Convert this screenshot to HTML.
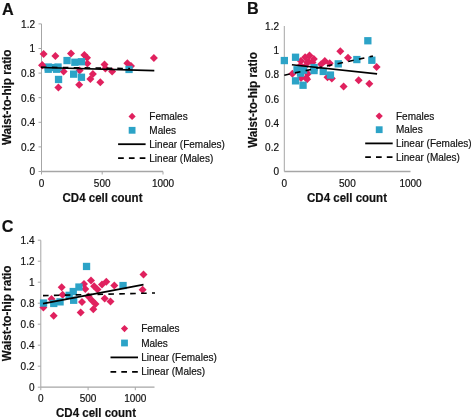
<!DOCTYPE html>
<html><head><meta charset="utf-8"><style>
html,body{margin:0;padding:0;background:#fff;}
body{width:472px;height:420px;overflow:hidden;}
svg{display:block;filter:blur(0.4px);}
text{font-family:"Liberation Sans",sans-serif;fill:#111;stroke:#111;stroke-width:0.18px;}
</style></head><body>
<svg width="472" height="420" viewBox="0 0 472 420">
<rect width="472" height="420" fill="#fff"/>
<line x1="41.5" y1="23.9" x2="41.5" y2="171.5" stroke="#a6a6a6" stroke-width="1"/>
<line x1="41.5" y1="171.5" x2="163" y2="171.5" stroke="#a6a6a6" stroke-width="1.3"/>
<line x1="38.5" y1="171.5" x2="41.5" y2="171.5" stroke="#a6a6a6" stroke-width="1"/>
<text x="35" y="175.4" text-anchor="end" font-size="10">0</text>
<line x1="38.5" y1="146.9" x2="41.5" y2="146.9" stroke="#a6a6a6" stroke-width="1"/>
<text x="35" y="150.8" text-anchor="end" font-size="10">0.2</text>
<line x1="38.5" y1="122.3" x2="41.5" y2="122.3" stroke="#a6a6a6" stroke-width="1"/>
<text x="35" y="126.2" text-anchor="end" font-size="10">0.4</text>
<line x1="38.5" y1="97.7" x2="41.5" y2="97.7" stroke="#a6a6a6" stroke-width="1"/>
<text x="35" y="101.6" text-anchor="end" font-size="10">0.6</text>
<line x1="38.5" y1="73.1" x2="41.5" y2="73.1" stroke="#a6a6a6" stroke-width="1"/>
<text x="35" y="77.0" text-anchor="end" font-size="10">0.8</text>
<line x1="38.5" y1="48.5" x2="41.5" y2="48.5" stroke="#a6a6a6" stroke-width="1"/>
<text x="35" y="52.4" text-anchor="end" font-size="10">1</text>
<line x1="38.5" y1="23.9" x2="41.5" y2="23.9" stroke="#a6a6a6" stroke-width="1"/>
<text x="35" y="27.8" text-anchor="end" font-size="10">1.2</text>
<line x1="41.5" y1="171.5" x2="41.5" y2="174.5" stroke="#a6a6a6" stroke-width="1"/>
<text x="41.5" y="186.8" text-anchor="middle" font-size="10">0</text>
<line x1="102.2" y1="171.5" x2="102.2" y2="174.5" stroke="#a6a6a6" stroke-width="1"/>
<text x="102.2" y="186.8" text-anchor="middle" font-size="10">500</text>
<line x1="163.0" y1="171.5" x2="163.0" y2="174.5" stroke="#a6a6a6" stroke-width="1"/>
<text x="163.0" y="186.8" text-anchor="middle" font-size="10">1000</text>
<text x="102.5" y="201.7" text-anchor="middle" font-size="12.6" font-weight="bold" textLength="80" lengthAdjust="spacingAndGlyphs">CD4 cell count</text>
<text transform="translate(11,97.3) rotate(-90)" text-anchor="middle" font-size="12.2" font-weight="bold" textLength="95.6" lengthAdjust="spacingAndGlyphs">Waist-to-hip ratio</text>
<text x="1.9" y="14.5" font-size="16.2" font-weight="bold">A</text>
<path d="M43.6 50.0L47.6 54.0L43.6 58.0L39.6 54.0Z" fill="#e0215e"/>
<path d="M55.4 52.1L59.4 56.1L55.4 60.1L51.4 56.1Z" fill="#e0215e"/>
<path d="M71.0 49.5L75.0 53.5L71.0 57.5L67.0 53.5Z" fill="#e0215e"/>
<path d="M84.4 51.0L88.4 55.0L84.4 59.0L80.4 55.0Z" fill="#e0215e"/>
<path d="M87.0 53.8L91.0 57.8L87.0 61.8L83.0 57.8Z" fill="#e0215e"/>
<path d="M42.2 61.3L46.2 65.3L42.2 69.3L38.2 65.3Z" fill="#e0215e"/>
<path d="M63.6 67.4L67.6 71.4L63.6 75.4L59.6 71.4Z" fill="#e0215e"/>
<path d="M79.6 66.6L83.6 70.6L79.6 74.6L75.6 70.6Z" fill="#e0215e"/>
<path d="M87.4 59.5L91.4 63.5L87.4 67.5L83.4 63.5Z" fill="#e0215e"/>
<path d="M92.9 70.0L96.9 74.0L92.9 78.0L88.9 74.0Z" fill="#e0215e"/>
<path d="M90.4 74.9L94.4 78.9L90.4 82.9L86.4 78.9Z" fill="#e0215e"/>
<path d="M100.3 78.3L104.3 82.3L100.3 86.3L96.3 82.3Z" fill="#e0215e"/>
<path d="M58.4 83.4L62.4 87.4L58.4 91.4L54.4 87.4Z" fill="#e0215e"/>
<path d="M79.2 80.8L83.2 84.8L79.2 88.8L75.2 84.8Z" fill="#e0215e"/>
<path d="M104.5 60.5L108.5 64.5L104.5 68.5L100.5 64.5Z" fill="#e0215e"/>
<path d="M105.4 64.5L109.4 68.5L105.4 72.5L101.4 68.5Z" fill="#e0215e"/>
<path d="M112.1 67.6L116.1 71.6L112.1 75.6L108.1 71.6Z" fill="#e0215e"/>
<path d="M127.4 59.2L131.4 63.2L127.4 67.2L123.4 63.2Z" fill="#e0215e"/>
<path d="M131.0 62.0L135.0 66.0L131.0 70.0L127.0 66.0Z" fill="#e0215e"/>
<path d="M153.9 53.9L157.9 57.9L153.9 61.9L149.9 57.9Z" fill="#e0215e"/>
<rect x="44.6" y="63.4" width="7.3" height="7.3" fill="#2ca3c7"/>
<rect x="49.4" y="63.9" width="7.3" height="7.3" fill="#2ca3c7"/>
<rect x="54.4" y="63.4" width="7.3" height="7.3" fill="#2ca3c7"/>
<rect x="44.6" y="65.6" width="7.3" height="7.3" fill="#2ca3c7"/>
<rect x="52.9" y="65.6" width="7.3" height="7.3" fill="#2ca3c7"/>
<rect x="54.9" y="75.8" width="7.3" height="7.3" fill="#2ca3c7"/>
<rect x="63.4" y="56.9" width="7.3" height="7.3" fill="#2ca3c7"/>
<rect x="71.2" y="58.6" width="7.3" height="7.3" fill="#2ca3c7"/>
<rect x="77.8" y="58.1" width="7.3" height="7.3" fill="#2ca3c7"/>
<rect x="70.0" y="70.5" width="7.3" height="7.3" fill="#2ca3c7"/>
<rect x="77.8" y="73.6" width="7.3" height="7.3" fill="#2ca3c7"/>
<rect x="125.4" y="65.8" width="7.3" height="7.3" fill="#2ca3c7"/>
<path d="M42.3 61.2L46.3 65.2L42.3 69.2L38.3 65.2Z" fill="#e0215e"/>
<line x1="41" y1="67.5" x2="154.3" y2="70.6" stroke="#000" stroke-width="1.6"/>
<line x1="41" y1="67.2" x2="130" y2="68.6" stroke="#000" stroke-width="1.6" stroke-dasharray="5.6 5.3"/>
<path d="M132.1 112.8L135.7 116.4L132.1 120.0L128.5 116.4Z" fill="#e0215e"/>
<rect x="128.7" y="126.9" width="6.8" height="6.8" fill="#2ca3c7"/>
<line x1="118.1" y1="144.2" x2="145.6" y2="144.2" stroke="#000" stroke-width="1.8"/>
<line x1="118.1" y1="158.1" x2="145.6" y2="158.1" stroke="#000" stroke-width="1.8" stroke-dasharray="5.7 5.1"/>
<text x="149.3" y="120.0" font-size="10">Females</text>
<text x="149.3" y="133.9" font-size="10">Males</text>
<text x="149.3" y="147.8" font-size="10">Linear (Females)</text>
<text x="149.3" y="161.7" font-size="10">Linear (Males)</text>
<line x1="284.3" y1="26" x2="284.3" y2="171.5" stroke="#a6a6a6" stroke-width="1"/>
<line x1="284.3" y1="171.5" x2="410.5" y2="171.5" stroke="#a6a6a6" stroke-width="1.3"/>
<text x="279" y="175.4" text-anchor="end" font-size="10">0</text>
<text x="279" y="151.2" text-anchor="end" font-size="10">0.2</text>
<text x="279" y="126.9" text-anchor="end" font-size="10">0.4</text>
<text x="279" y="102.7" text-anchor="end" font-size="10">0.6</text>
<text x="279" y="78.4" text-anchor="end" font-size="10">0.8</text>
<text x="279" y="54.1" text-anchor="end" font-size="10">1</text>
<text x="279" y="29.9" text-anchor="end" font-size="10">1.2</text>
<text x="284.3" y="186.8" text-anchor="middle" font-size="10">0</text>
<text x="347.4" y="186.8" text-anchor="middle" font-size="10">500</text>
<text x="410.5" y="186.8" text-anchor="middle" font-size="10">1000</text>
<text x="347" y="201.7" text-anchor="middle" font-size="12.6" font-weight="bold" textLength="80" lengthAdjust="spacingAndGlyphs">CD4 cell count</text>
<text transform="translate(256.8,100) rotate(-90)" text-anchor="middle" font-size="12.2" font-weight="bold" textLength="95.6" lengthAdjust="spacingAndGlyphs">Waist-to-hip ratio</text>
<text x="247.1" y="14.4" font-size="16.2" font-weight="bold">B</text>
<path d="M300.5 61.5L304.5 65.5L300.5 69.5L296.5 65.5Z" fill="#e0215e"/>
<path d="M304.5 63.0L308.5 67.0L304.5 71.0L300.5 67.0Z" fill="#e0215e"/>
<path d="M301.0 74.0L305.0 78.0L301.0 82.0L297.0 78.0Z" fill="#e0215e"/>
<path d="M308.5 57.8L312.5 61.8L308.5 65.8L304.5 61.8Z" fill="#e0215e"/>
<path d="M312.5 58.5L316.5 62.5L312.5 66.5L308.5 62.5Z" fill="#e0215e"/>
<path d="M300.9 57.1L304.9 61.1L300.9 65.1L296.9 61.1Z" fill="#e0215e"/>
<path d="M305.1 53.3L309.1 57.3L305.1 61.3L301.1 57.3Z" fill="#e0215e"/>
<path d="M309.5 51.5L313.5 55.5L309.5 59.5L305.5 55.5Z" fill="#e0215e"/>
<path d="M313.8 55.0L317.8 59.0L313.8 63.0L309.8 59.0Z" fill="#e0215e"/>
<path d="M307.3 58.2L311.3 62.2L307.3 66.2L303.3 62.2Z" fill="#e0215e"/>
<path d="M292.4 69.7L296.4 73.7L292.4 77.7L288.4 73.7Z" fill="#e0215e"/>
<path d="M306.1 74.0L310.1 78.0L306.1 82.0L302.1 78.0Z" fill="#e0215e"/>
<path d="M307.9 69.7L311.9 73.7L307.9 77.7L303.9 73.7Z" fill="#e0215e"/>
<path d="M324.8 57.1L328.8 61.1L324.8 65.1L320.8 61.1Z" fill="#e0215e"/>
<path d="M329.7 59.2L333.7 63.2L329.7 67.2L325.7 63.2Z" fill="#e0215e"/>
<path d="M321.1 60.3L325.1 64.3L321.1 68.3L317.1 64.3Z" fill="#e0215e"/>
<path d="M327.5 73.2L331.5 77.2L327.5 81.2L323.5 77.2Z" fill="#e0215e"/>
<path d="M331.8 74.4L335.8 78.4L331.8 82.4L327.8 78.4Z" fill="#e0215e"/>
<path d="M307.1 75.3L311.1 79.3L307.1 83.3L303.1 79.3Z" fill="#e0215e"/>
<path d="M340.3 47.2L344.3 51.2L340.3 55.2L336.3 51.2Z" fill="#e0215e"/>
<path d="M348.0 53.7L352.0 57.7L348.0 61.7L344.0 57.7Z" fill="#e0215e"/>
<path d="M376.6 63.1L380.6 67.1L376.6 71.1L372.6 67.1Z" fill="#e0215e"/>
<path d="M358.6 76.2L362.6 80.2L358.6 84.2L354.6 80.2Z" fill="#e0215e"/>
<path d="M369.3 79.8L373.3 83.8L369.3 87.8L365.3 83.8Z" fill="#e0215e"/>
<path d="M343.6 82.5L347.6 86.5L343.6 90.5L339.6 86.5Z" fill="#e0215e"/>
<rect x="280.7" y="56.9" width="7.3" height="7.3" fill="#2ca3c7"/>
<rect x="291.9" y="53.6" width="7.3" height="7.3" fill="#2ca3c7"/>
<rect x="293.4" y="66.1" width="7.3" height="7.3" fill="#2ca3c7"/>
<rect x="299.9" y="66.5" width="7.3" height="7.3" fill="#2ca3c7"/>
<rect x="296.9" y="69.5" width="7.3" height="7.3" fill="#2ca3c7"/>
<rect x="291.9" y="77.2" width="7.3" height="7.3" fill="#2ca3c7"/>
<rect x="299.4" y="81.6" width="7.3" height="7.3" fill="#2ca3c7"/>
<rect x="310.4" y="63.9" width="7.3" height="7.3" fill="#2ca3c7"/>
<rect x="310.4" y="66.9" width="7.3" height="7.3" fill="#2ca3c7"/>
<rect x="319.6" y="67.8" width="7.3" height="7.3" fill="#2ca3c7"/>
<rect x="326.8" y="71.4" width="7.3" height="7.3" fill="#2ca3c7"/>
<rect x="334.6" y="60.2" width="7.3" height="7.3" fill="#2ca3c7"/>
<rect x="353.2" y="55.9" width="7.3" height="7.3" fill="#2ca3c7"/>
<rect x="368.2" y="56.6" width="7.3" height="7.3" fill="#2ca3c7"/>
<rect x="364.2" y="37.1" width="7.3" height="7.3" fill="#2ca3c7"/>
<line x1="291.9" y1="64.8" x2="377.1" y2="73.9" stroke="#000" stroke-width="1.6"/>
<line x1="284.3" y1="75.2" x2="372.9" y2="56.1" stroke="#000" stroke-width="1.6" stroke-dasharray="5.6 5.3"/>
<path d="M379.2 112.5L382.8 116.1L379.2 119.7L375.6 116.1Z" fill="#e0215e"/>
<rect x="375.8" y="126.3" width="6.8" height="6.8" fill="#2ca3c7"/>
<line x1="365.2" y1="143.4" x2="392.7" y2="143.4" stroke="#000" stroke-width="1.8"/>
<line x1="365.2" y1="157.1" x2="392.7" y2="157.1" stroke="#000" stroke-width="1.8" stroke-dasharray="5.7 5.1"/>
<text x="396" y="119.7" font-size="10">Females</text>
<text x="396" y="133.3" font-size="10">Males</text>
<text x="396" y="147.0" font-size="10">Linear (Females)</text>
<text x="396" y="160.7" font-size="10">Linear (Males)</text>
<line x1="40.8" y1="240.3" x2="40.8" y2="387.2" stroke="#a6a6a6" stroke-width="1"/>
<line x1="40.8" y1="387.2" x2="154.5" y2="387.2" stroke="#a6a6a6" stroke-width="1.3"/>
<line x1="37.8" y1="387.2" x2="40.8" y2="387.2" stroke="#a6a6a6" stroke-width="1"/>
<text x="34.5" y="391.1" text-anchor="end" font-size="10">0</text>
<line x1="37.8" y1="366.2" x2="40.8" y2="366.2" stroke="#a6a6a6" stroke-width="1"/>
<text x="34.5" y="370.1" text-anchor="end" font-size="10">0.2</text>
<line x1="37.8" y1="345.2" x2="40.8" y2="345.2" stroke="#a6a6a6" stroke-width="1"/>
<text x="34.5" y="349.1" text-anchor="end" font-size="10">0.4</text>
<line x1="37.8" y1="324.2" x2="40.8" y2="324.2" stroke="#a6a6a6" stroke-width="1"/>
<text x="34.5" y="328.1" text-anchor="end" font-size="10">0.6</text>
<line x1="37.8" y1="303.2" x2="40.8" y2="303.2" stroke="#a6a6a6" stroke-width="1"/>
<text x="34.5" y="307.1" text-anchor="end" font-size="10">0.8</text>
<line x1="37.8" y1="282.2" x2="40.8" y2="282.2" stroke="#a6a6a6" stroke-width="1"/>
<text x="34.5" y="286.1" text-anchor="end" font-size="10">1</text>
<line x1="37.8" y1="261.2" x2="40.8" y2="261.2" stroke="#a6a6a6" stroke-width="1"/>
<text x="34.5" y="265.1" text-anchor="end" font-size="10">1.2</text>
<line x1="37.8" y1="240.2" x2="40.8" y2="240.2" stroke="#a6a6a6" stroke-width="1"/>
<text x="34.5" y="244.1" text-anchor="end" font-size="10">1.4</text>
<line x1="40.8" y1="387.2" x2="40.8" y2="390.2" stroke="#a6a6a6" stroke-width="1"/>
<text x="40.8" y="402" text-anchor="middle" font-size="10">0</text>
<line x1="88.1" y1="387.2" x2="88.1" y2="390.2" stroke="#a6a6a6" stroke-width="1"/>
<text x="88.1" y="402" text-anchor="middle" font-size="10">500</text>
<line x1="135.3" y1="387.2" x2="135.3" y2="390.2" stroke="#a6a6a6" stroke-width="1"/>
<text x="135.3" y="402" text-anchor="middle" font-size="10">1000</text>
<text x="96" y="416.8" text-anchor="middle" font-size="12.6" font-weight="bold" textLength="80" lengthAdjust="spacingAndGlyphs">CD4 cell count</text>
<text transform="translate(11,313.4) rotate(-90)" text-anchor="middle" font-size="12.2" font-weight="bold" textLength="95.6" lengthAdjust="spacingAndGlyphs">Waist-to-hip ratio</text>
<text x="1.8" y="231.7" font-size="16.2" font-weight="bold">C</text>
<path d="M61.7 283.3L65.7 287.3L61.7 291.3L57.7 287.3Z" fill="#e0215e"/>
<path d="M62.6 290.8L66.6 294.8L62.6 298.8L58.6 294.8Z" fill="#e0215e"/>
<path d="M51.5 295.0L55.5 299.0L51.5 303.0L47.5 299.0Z" fill="#e0215e"/>
<path d="M43.4 303.6L47.4 307.6L43.4 311.6L39.4 307.6Z" fill="#e0215e"/>
<path d="M53.7 311.7L57.7 315.7L53.7 319.7L49.7 315.7Z" fill="#e0215e"/>
<path d="M84.0 280.0L88.0 284.0L84.0 288.0L80.0 284.0Z" fill="#e0215e"/>
<path d="M85.3 285.0L89.3 289.0L85.3 293.0L81.3 289.0Z" fill="#e0215e"/>
<path d="M91.0 276.6L95.0 280.6L91.0 284.6L87.0 280.6Z" fill="#e0215e"/>
<path d="M94.1 282.2L98.1 286.2L94.1 290.2L90.1 286.2Z" fill="#e0215e"/>
<path d="M97.5 285.5L101.5 289.5L97.5 293.5L93.5 289.5Z" fill="#e0215e"/>
<path d="M88.5 292.5L92.5 296.5L88.5 300.5L84.5 296.5Z" fill="#e0215e"/>
<path d="M92.0 296.5L96.0 300.5L92.0 304.5L88.0 300.5Z" fill="#e0215e"/>
<path d="M95.5 300.0L99.5 304.0L95.5 308.0L91.5 304.0Z" fill="#e0215e"/>
<path d="M93.3 305.2L97.3 309.2L93.3 313.2L89.3 309.2Z" fill="#e0215e"/>
<path d="M82.0 298.0L86.0 302.0L82.0 306.0L78.0 302.0Z" fill="#e0215e"/>
<path d="M80.7 308.4L84.7 312.4L80.7 316.4L76.7 312.4Z" fill="#e0215e"/>
<path d="M102.0 280.5L106.0 284.5L102.0 288.5L98.0 284.5Z" fill="#e0215e"/>
<path d="M106.3 277.8L110.3 281.8L106.3 285.8L102.3 281.8Z" fill="#e0215e"/>
<path d="M114.3 281.5L118.3 285.5L114.3 289.5L110.3 285.5Z" fill="#e0215e"/>
<path d="M104.7 294.4L108.7 298.4L104.7 302.4L100.7 298.4Z" fill="#e0215e"/>
<path d="M110.5 297.6L114.5 301.6L110.5 305.6L106.5 301.6Z" fill="#e0215e"/>
<path d="M143.5 270.5L147.5 274.5L143.5 278.5L139.5 274.5Z" fill="#e0215e"/>
<path d="M142.6 285.7L146.6 289.7L142.6 293.7L138.6 289.7Z" fill="#e0215e"/>
<rect x="82.9" y="262.8" width="7.3" height="7.3" fill="#2ca3c7"/>
<rect x="39.9" y="299.4" width="7.3" height="7.3" fill="#2ca3c7"/>
<rect x="50.1" y="299.8" width="7.3" height="7.3" fill="#2ca3c7"/>
<rect x="56.4" y="298.2" width="7.3" height="7.3" fill="#2ca3c7"/>
<rect x="75.3" y="283.4" width="7.3" height="7.3" fill="#2ca3c7"/>
<rect x="69.6" y="287.9" width="7.3" height="7.3" fill="#2ca3c7"/>
<rect x="65.5" y="291.7" width="7.3" height="7.3" fill="#2ca3c7"/>
<rect x="70.0" y="296.6" width="7.3" height="7.3" fill="#2ca3c7"/>
<rect x="119.4" y="281.9" width="7.3" height="7.3" fill="#2ca3c7"/>
<line x1="43" y1="303.6" x2="143.5" y2="284.6" stroke="#000" stroke-width="1.6"/>
<line x1="43" y1="295.6" x2="155" y2="293" stroke="#000" stroke-width="1.6" stroke-dasharray="5.6 5.3"/>
<path d="M124.5 325.0L128.1 328.6L124.5 332.2L120.9 328.6Z" fill="#e0215e"/>
<rect x="121.1" y="339.6" width="6.8" height="6.8" fill="#2ca3c7"/>
<line x1="110.5" y1="357.4" x2="138.0" y2="357.4" stroke="#000" stroke-width="1.8"/>
<line x1="110.5" y1="371.8" x2="138.0" y2="371.8" stroke="#000" stroke-width="1.8" stroke-dasharray="5.7 5.1"/>
<text x="141.2" y="332.2" font-size="10">Females</text>
<text x="141.2" y="346.6" font-size="10">Males</text>
<text x="141.2" y="361.0" font-size="10">Linear (Females)</text>
<text x="141.2" y="375.4" font-size="10">Linear (Males)</text>
</svg>
</body></html>
